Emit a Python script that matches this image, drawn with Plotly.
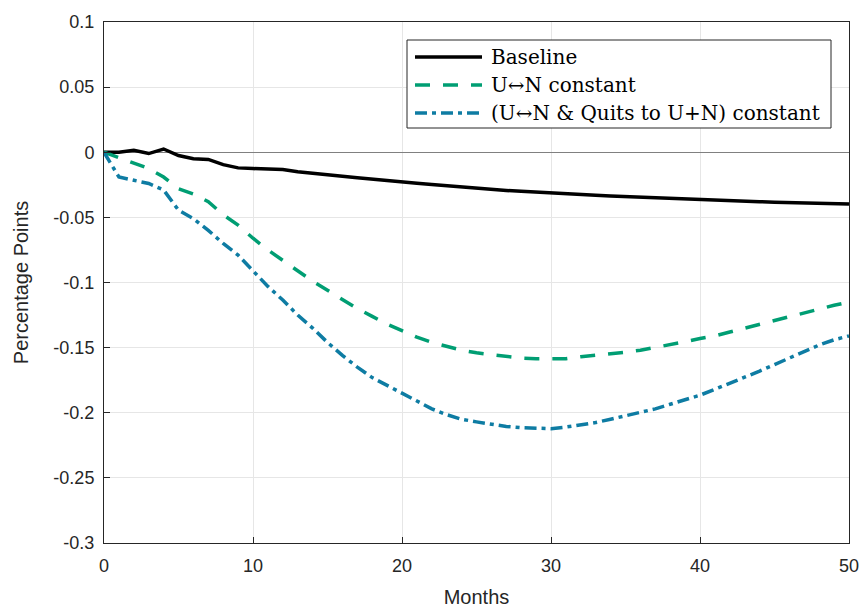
import plotly.graph_objects as go

# Months since the shock
months = list(range(0, 51))

# Response of the unemployment rate (percentage points)
baseline = [
    0.0, 0.0, 0.0015, -0.001, 0.0025, -0.0025, -0.005, -0.0055, -0.0095, -0.012,
    -0.0125, -0.0128, -0.0133, -0.015, -0.0163, -0.0175, -0.0185, -0.0195, -0.0207, -0.0218,
    -0.0228, -0.0238, -0.0248, -0.0258, -0.0268, -0.0277, -0.0285, -0.0293, -0.0300, -0.0307,
    -0.0313, -0.0319, -0.0325, -0.0330, -0.0335, -0.0340, -0.0345, -0.0350, -0.0355, -0.0360,
    -0.0365, -0.0369, -0.0373, -0.0377, -0.0380, -0.0383, -0.0386, -0.0389, -0.0392, -0.0395,
    -0.0398,
]
un_constant = [
    0.0, -0.004, -0.008, -0.0125, -0.019, -0.028, -0.032, -0.038, -0.048, -0.056,
    -0.066, -0.075, -0.083, -0.091, -0.099, -0.106, -0.113, -0.120, -0.126, -0.132,
    -0.137, -0.142, -0.146, -0.149, -0.152, -0.154, -0.1555, -0.157, -0.158, -0.1585,
    -0.1588, -0.1585, -0.157, -0.156, -0.155, -0.1535, -0.152, -0.150, -0.148, -0.1455,
    -0.143, -0.141, -0.138, -0.135, -0.132, -0.129, -0.126, -0.123, -0.120, -0.1175,
    -0.115,
]
un_quits_constant = [
    0.0, -0.019, -0.0215, -0.024, -0.029, -0.0445, -0.051, -0.060, -0.070, -0.079,
    -0.091, -0.103, -0.1135, -0.125, -0.135, -0.146, -0.156, -0.165, -0.173, -0.179,
    -0.185, -0.191, -0.197, -0.2015, -0.205, -0.207, -0.209, -0.2105, -0.2115, -0.212,
    -0.2122, -0.211, -0.2095, -0.2075, -0.205, -0.2025, -0.200, -0.197, -0.1935, -0.190,
    -0.1865, -0.182, -0.1775, -0.173, -0.168, -0.163, -0.158, -0.153, -0.148, -0.144,
    -0.141,
]

series_names = ["Baseline", "U\u2194N constant", "(U\u2194N & Quits to U+N) constant"]

y_tickvals = [0.1, 0.05, 0, -0.05, -0.1, -0.15, -0.2, -0.25, -0.3]
y_ticktext = ["0.1", "0.05", "0", "-0.05", "-0.1", "-0.15", "-0.2", "-0.25", "-0.3"]
x_tickvals = [0, 10, 20, 30, 40, 50]

# Figure geometry (pixels)
W, H = 862, 608
ML, MR, MT, MB = 104, 13, 22, 65
PW, PH = W - ML - MR, H - MT - MB

def px_x(px):
    return (px - ML) / PW

def px_y(py):
    return (H - MB - py) / PH

series_styles = [
    dict(color="#000000", width=3.5, dash="solid"),
    dict(color="#009E73", width=3.5, dash="15px,13px"),
    dict(color="#0E7CA3", width=3.5, dash="12px,5px,4px,5px"),
]
series_data = [baseline, un_constant, un_quits_constant]

fig = go.Figure()
for name, ys, style in zip(series_names, series_data, series_styles):
    fig.add_trace(go.Scatter(
        x=months, y=ys, mode="lines", name=name, line=style, showlegend=False,
    ))

# Boxed legend in the upper right
shapes = [dict(
    type="rect", xref="paper", yref="paper",
    x0=px_x(407), x1=px_x(831), y0=px_y(128), y1=px_y(40),
    line=dict(color="#262626", width=1), fillcolor="white", layer="above",
)]
annotations = []
row_y = [57, 85, 113]
for name, style, ry in zip(series_names, series_styles, row_y):
    shapes.append(dict(
        type="line", xref="paper", yref="paper",
        x0=px_x(415), x1=px_x(482), y0=px_y(ry), y1=px_y(ry),
        line=dict(color=style["color"], width=style["width"], dash=style["dash"]),
        layer="above",
    ))
    annotations.append(dict(
        xref="paper", yref="paper", x=px_x(489), y=px_y(ry),
        xanchor="left", yanchor="middle", showarrow=False, text=name,
        font=dict(family="DejaVu Serif, serif", size=20, color="#000000"),
    ))

axis_color = "#262626"
grid_color = "#E6E6E6"
tick_font = dict(family="Liberation Sans, Arial, sans-serif", size=18, color=axis_color)
title_font = dict(family="Liberation Sans, Arial, sans-serif", size=20, color=axis_color)

fig.update_layout(
    width=W,
    height=H,
    margin=dict(l=ML, r=MR, t=MT, b=MB, autoexpand=False),
    paper_bgcolor="white",
    plot_bgcolor="white",
    showlegend=False,
    shapes=shapes,
    annotations=annotations,
    xaxis=dict(
        range=[0, 50], tickvals=x_tickvals, automargin=False,
        showgrid=True, gridcolor=grid_color, gridwidth=1,
        showline=True, linecolor=axis_color, linewidth=1, mirror=True,
        ticks="inside", ticklen=6, tickcolor=axis_color,
        tickfont=tick_font, ticklabelstandoff=6, zeroline=False,
        title=dict(text="Months", font=title_font, standoff=15),
    ),
    yaxis=dict(
        range=[-0.3, 0.1], tickvals=y_tickvals, ticktext=y_ticktext, automargin=False,
        showgrid=True, gridcolor=grid_color, gridwidth=1,
        showline=True, linecolor=axis_color, linewidth=1, mirror=True,
        ticks="inside", ticklen=6, tickcolor=axis_color,
        tickfont=tick_font, ticklabelstandoff=5,
        zeroline=True, zerolinecolor="#808080", zerolinewidth=1.2,
        title=dict(text="Percentage Points", font=title_font, standoff=19),
    ),
)

fig.write_html("out.html")
